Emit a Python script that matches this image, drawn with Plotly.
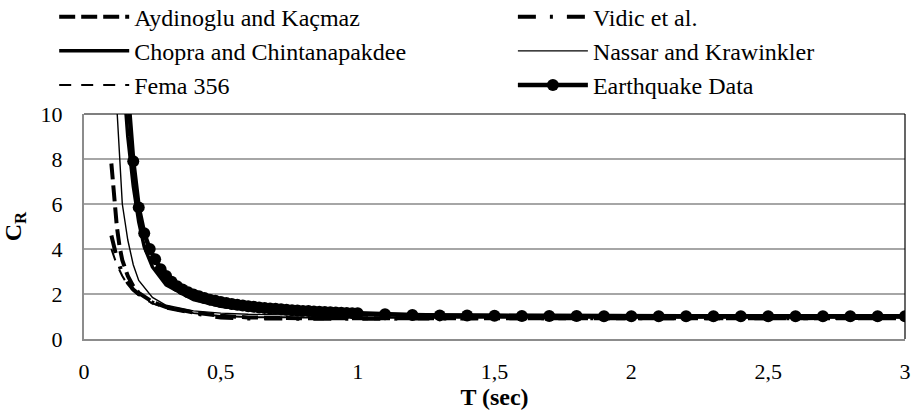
import plotly.graph_objects as go

# ---- data ----
ayd_T = [0.10, 0.11, 0.12, 0.13, 0.14, 0.16, 0.18, 0.20, 0.25, 0.30, 0.35, 0.40, 0.50, 0.60, 0.80, 1.00, 1.50, 2.00, 2.50, 3.00]
ayd_CR = [7.8, 6.2, 5.0, 4.1, 3.5, 2.8, 2.35, 2.05, 1.65, 1.42, 1.28, 1.18, 1.03, 0.96, 0.92, 0.92, 0.92, 0.92, 0.92, 0.92]

vid_T = [0.10, 0.12, 0.14, 0.16, 0.18, 0.20, 0.25, 0.30, 0.40, 0.50, 0.60, 0.80, 1.00, 1.50, 2.00, 2.50, 3.00]
vid_CR = [4.6, 3.6, 2.9, 2.5, 2.2, 2.0, 1.62, 1.4, 1.15, 0.95, 0.91, 0.9, 0.9, 0.92, 0.93, 0.93, 0.93]

cho_T = [0.15, 0.16, 0.18, 0.20, 0.22, 0.25, 0.30, 0.40, 0.50, 0.60, 0.80, 1.00, 1.50, 2.00, 3.00]
cho_CR = [10.6, 9.0, 6.8, 5.2, 4.1, 3.2, 2.4, 1.75, 1.45, 1.3, 1.17, 1.1, 1.04, 1.02, 1.01]

nas_T = [0.12, 0.13, 0.14, 0.15, 0.16, 0.18, 0.20, 0.25, 0.30, 0.40, 0.50, 0.60, 0.80, 1.00, 1.50, 3.00]
nas_CR = [10.3, 7.9, 6.0, 5.2, 4.4, 3.3, 2.6, 1.85, 1.5, 1.25, 1.15, 1.1, 1.05, 1.03, 1.01, 1.0]

fem_T = [0.10, 0.12, 0.14, 0.16, 0.18, 0.20, 0.25, 0.30, 0.40, 0.50, 0.60, 0.80, 1.00, 1.50, 2.00, 3.00]
fem_CR = [4.0, 3.3, 2.8, 2.4, 2.15, 1.95, 1.58, 1.38, 1.15, 1.02, 0.97, 0.95, 0.95, 0.95, 0.95, 0.95]

eq_T = [0.10, 0.12, 0.14, 0.16, 0.18, 0.20, 0.22, 0.24, 0.26, 0.28, 0.30, 0.32, 0.34, 0.36, 0.38,
        0.40, 0.42, 0.44, 0.46, 0.48, 0.50, 0.52, 0.54, 0.56, 0.58, 0.60, 0.62, 0.64, 0.66, 0.68,
        0.70, 0.72, 0.74, 0.76, 0.78, 0.80, 0.82, 0.84, 0.86, 0.88, 0.90, 0.92, 0.94, 0.96, 0.98,
        1.00, 1.10, 1.20, 1.30, 1.40, 1.50, 1.60, 1.70, 1.80, 1.90, 2.00, 2.10, 2.20, 2.30, 2.40,
        2.50, 2.60, 2.70, 2.80, 2.90, 3.00]
eq_CR = [30, 20, 14.5, 11, 7.9, 5.85, 4.7, 4.0, 3.55, 3.1, 2.8, 2.55, 2.35, 2.2, 2.08,
         1.98, 1.9, 1.82, 1.75, 1.7, 1.64, 1.6, 1.56, 1.52, 1.49, 1.46, 1.43, 1.4, 1.38, 1.36,
         1.34, 1.32, 1.3, 1.28, 1.27, 1.25, 1.24, 1.22, 1.21, 1.2, 1.19, 1.18, 1.17, 1.16, 1.15,
         1.14, 1.1, 1.07, 1.05, 1.04, 1.03, 1.02, 1.02, 1.02, 1.01, 1.01, 1.01, 1.01, 1.01, 1.01,
         1.01, 1.01, 1.01, 1.01, 1.01, 1.01]

x_ticks = [0, 0.5, 1, 1.5, 2, 2.5, 3]
x_ticktext = ["0", "0,5", "1", "1,5", "2", "2,5", "3"]
y_ticks = [0, 2, 4, 6, 8, 10]

FONT = "Liberation Serif"
L_FONT = dict(family=FONT, size=24, color="black")

fig = go.Figure()
fig.add_trace(go.Scatter(x=ayd_T, y=ayd_CR, mode="lines", name="Aydinoglu and Kaçmaz",
                         legend="legend", legendgroup="a",
                         line=dict(color="black", width=4, dash="16px,6px")))
fig.add_trace(go.Scatter(x=vid_T, y=vid_CR, mode="lines", name="Vidic et al.",
                         legend="legend2", legendgroup="b",
                         line=dict(color="black", width=4, dash="18px,14px,3px,14px")))
fig.add_trace(go.Scatter(x=cho_T, y=cho_CR, mode="lines", name="Chopra and Chintanapakdee",
                         legend="legend", legendgroup="c",
                         line=dict(color="black", width=3.5)))
fig.add_trace(go.Scatter(x=nas_T, y=nas_CR, mode="lines", name="Nassar and Krawinkler",
                         legend="legend2", legendgroup="d",
                         line=dict(color="black", width=1.4)))
fig.add_trace(go.Scatter(x=fem_T, y=fem_CR, mode="lines", name="Fema 356",
                         legend="legend", legendgroup="e",
                         line=dict(color="black", width=2, dash="12px,10px")))
fig.add_trace(go.Scatter(x=eq_T, y=eq_CR, mode="lines+markers", name="Earthquake Data",
                         legend="legend2", legendgroup="f",
                         line=dict(color="black", width=4.5),
                         marker=dict(color="black", size=12, symbol="circle")))

legend_common = dict(orientation="v", xanchor="left", yanchor="top", yref="paper",
                     itemwidth=70, font=L_FONT, bgcolor="rgba(0,0,0,0)",
                     traceorder="grouped", tracegroupgap=0)

fig.update_layout(
    width=915, height=419,
    margin=dict(l=84, r=10, t=114, b=80, autoexpand=False),
    paper_bgcolor="white", plot_bgcolor="white",
    font=dict(family=FONT, size=22, color="black"),
    showlegend=True,
    legend=dict(x=-0.0363, y=1.531, **legend_common),
    legend2=dict(x=0.5224, y=1.531, **legend_common),
    xaxis=dict(range=[0, 3], tickvals=x_ticks, ticktext=x_ticktext,
               showgrid=False, zeroline=False, showline=True, linecolor="#8c8c8c", linewidth=2,
               ticks="", ticklabelstandoff=12, tickfont=dict(family=FONT, size=22),
               title=dict(text="<b>T (sec)</b>", font=dict(family=FONT, size=24), standoff=2)),
    yaxis=dict(range=[0, 10], tickvals=y_ticks,
               showgrid=True, gridcolor="#a6a6a6", gridwidth=1.5, zeroline=False,
               showline=True, linecolor="#8c8c8c", linewidth=2,
               ticks="", ticklabelstandoff=15, tickfont=dict(family=FONT, size=22),
               title=dict(text="<b>C<sub>R</sub></b>", font=dict(family=FONT, size=24), standoff=18)),
)

# plot-area border: black top and right edges
fig.add_shape(type="line", xref="x domain", yref="y domain", x0=0, x1=1, y0=1, y1=1,
              line=dict(color="black", width=1.2), layer="above")
fig.add_shape(type="line", xref="x domain", yref="y domain", x0=1, x1=1, y0=0, y1=1,
              line=dict(color="black", width=1.2), layer="above")

# remove the default 8px page margin so the figure fills the window exactly
fig.write_html("out.html", config={"displayModeBar": False},
               post_script="document.body.style.margin='0';")
